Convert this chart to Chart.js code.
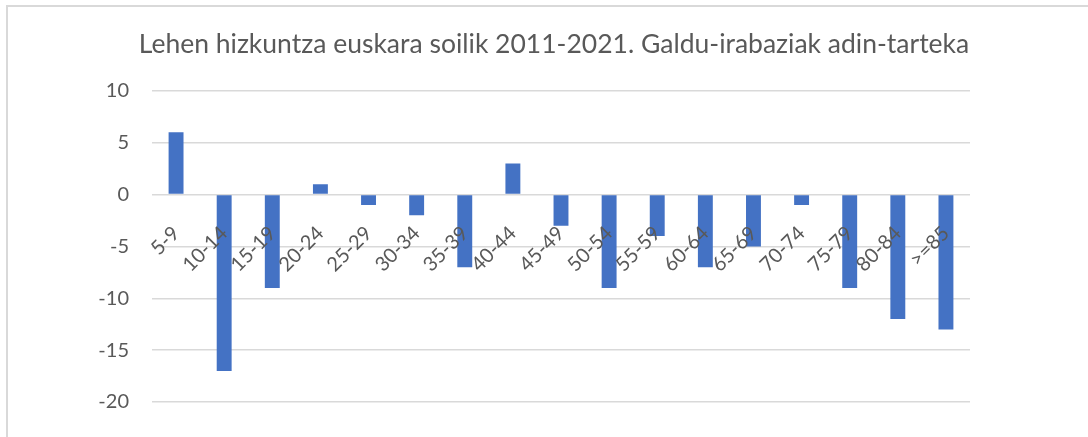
<!DOCTYPE html>
<html>
<head>
<meta charset="utf-8">
<script src="https://cdn.jsdelivr.net/npm/chart.js@4"></script>
<style>
  body { margin: 0; background: #fff; }
  .wrap { position: relative; width: 1088px; height: 437px; overflow: hidden; }
  .frame { position: absolute; left: 6px; top: 5px; width: 1200px; height: 600px; border-left: 2px solid #d9d9d9; border-top: 2px solid #d9d9d9; }
  canvas { position: absolute; left: 0; top: 0; }
</style>
</head>
<body>
<div class="wrap">
  <div class="frame"></div>
  <canvas id="age-chart" width="1088" height="437"></canvas>
</div>
<script>
const ctx = document.getElementById("age-chart");

var ageGroups = ["5-9", "10-14", "15-19", "20-24", "25-29", "30-34", "35-39", "40-44", "45-49",
  "50-54", "55-59", "60-64", "65-69", "70-74", "75-79", "80-84", ">=85"];
var changes = [6, -17, -9, 1, -1, -2, -7, 3, -3, -9, -4, -7, -5, -1, -9, -12, -13];
var yTicks = [10, 5, 0, -5, -10, -15, -20];

var textGrey = "#595959";

const myChart = new Chart(ctx, {
  type: "bar",
  data: {
    labels: ageGroups,
    datasets: [
      {
        label: "Galdu-irabaziak",
        backgroundColor: "#4472C4",
        data: changes,
        categoryPercentage: 1,
        barPercentage: 0.31,
      },
    ],
  },
  options: {
    responsive: false,
    animation: false,
    layout: {
      padding: { left: 20, right: 0, top: 0, bottom: 34 },
    },
    plugins: {
      legend: { display: false },
      tooltip: { enabled: false },
      title: {
        display: true,
        text: "Lehen hizkuntza euskara soilik 2011-2021. Galdu-irabaziak adin-tarteka",
        color: textGrey,
        font: { family: "Lato", size: 26.5, weight: "normal" },
        padding: { top: 29, bottom: 30 },
      },
    },
    scales: {
      x: {
        position: { y: 0 },
        grid: { display: false },
        border: { display: false },
        ticks: {
          z: 1, // labels sit on top of the bars, like Excel
          color: textGrey,
          font: { family: "Lato", size: 20 },
          minRotation: 45,
          maxRotation: 45,
          autoSkip: false,
          padding: 19,
        },
      },
      y: {
        min: Math.min.apply(null, yTicks),
        max: Math.max.apply(null, yTicks),
        afterFit: function (scale) { scale.width = 132; },
        afterBuildTicks: function (scale) {
          scale.ticks = yTicks.map(function (v) { return { value: v }; });
        },
        grid: { color: "#d9d9d9", lineWidth: 1.5, drawTicks: false },
        border: { display: false },
        ticks: {
          color: textGrey,
          font: { family: "Lato", size: 20 },
          padding: 23,
        },
      },
      spacer: {
        position: "right",
        display: true,
        afterFit: function (scale) { scale.width = 118; },
        grid: { display: false },
        border: { display: false },
        ticks: { display: false },
      },
    },
  },
});
</script>
</body>
</html>
